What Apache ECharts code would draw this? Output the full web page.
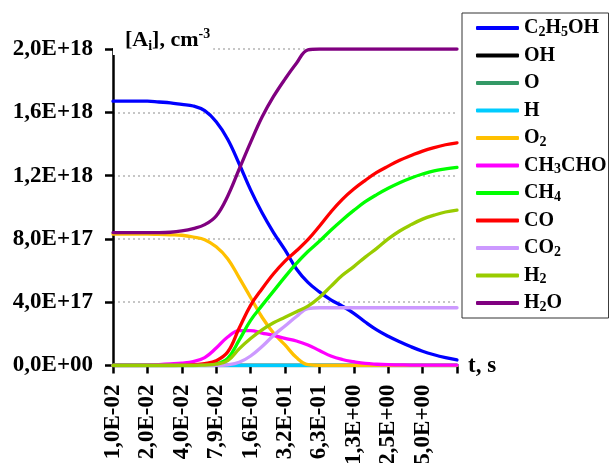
<!DOCTYPE html>
<html>
<head>
<meta charset="utf-8">
<script src="https://cdn.jsdelivr.net/npm/echarts@6/dist/echarts.min.js"></script>
<style>
html,body{margin:0;padding:0;background:#fff;}
#chart{width:609px;height:463px;}
</style>
</head>
<body>
<div id="chart"></div>
<script>
// ---- data (concentrations in units of 1E+17 cm^-3) ----
// categories: log10(t, s)
const logT = [-2.0,-1.9,-1.8,-1.7,-1.6,-1.5,-1.4,-1.3,-1.2,-1.1,-1.0,-0.9,-0.8,-0.7,-0.6,-0.5,-0.4,-0.3,-0.2,-0.1,0.0,0.1,0.2,0.3,0.4,0.5,0.6,0.7,0.8,0.9,1.0];
const xTickLabels = ['1,0E-02','2,0E-02','4,0E-02','7,9E-02','1,6E-01','3,2E-01','6,3E-01','1,3E+00','2,5E+00','5,0E+00'];
const yTickLabels = ['0,0E+00','4,0E+17','8,0E+17','1,2E+18','1,6E+18','2,0E+18'];

const C2H5OH = [16.7,16.7,16.7,16.7,16.65,16.6,16.5,16.4,16.1,15.4,14.3,12.75,11.1,9.65,8.4,7.3,6.1,5.25,4.65,4.15,3.75,3.3,2.75,2.25,1.85,1.5,1.18,0.9,0.68,0.5,0.35];
const OH     = [0,0,0,0,0,0,0,0,0,0,0,0,0,0,0,0,0,0,0,0,0,0,0,0,0,0,0,0,0,0,0];
const O      = [0,0,0,0,0,0,0,0,0,0,0,0,0,0,0,0,0,0,0,0,0,0,0,0,0,0,0,0,0,0,0];
const H      = [0,0,0,0,0,0,0,0,0,0,0,0,0,0,0,0,0,0,0,0,0,0,0,0,0,0,0,0,0,0,0];
const O2     = [8.3,8.3,8.3,8.3,8.28,8.26,8.23,8.12,7.95,7.5,6.75,5.55,4.3,3.05,2.05,1.3,0.5,0.05,0,0,0,0,0,0,0,0,0,0,0,0,0];
const CH3CHO = [0,0,0,0.03,0.06,0.1,0.15,0.25,0.5,1.1,1.8,2.2,2.2,2.05,1.9,1.72,1.55,1.3,0.95,0.6,0.38,0.24,0.13,0.08,0.05,0.04,0.03,0.03,0.02,0.02,0.02];
const CH4    = [0,0,0,0,0,0,0,0,0.03,0.1,0.45,1.6,2.85,3.8,4.7,5.6,6.45,7.2,7.85,8.55,9.2,9.8,10.35,10.8,11.2,11.55,11.85,12.1,12.3,12.42,12.52];
const CO     = [0,0,0,0,0,0,0.02,0.05,0.12,0.3,0.85,2.35,3.8,4.85,5.8,6.6,7.25,7.95,8.8,9.7,10.5,11.15,11.7,12.2,12.6,12.97,13.27,13.55,13.77,13.95,14.07];
const CO2    = [0,0,0,0,0,0,0,0,0,0,0.04,0.2,0.6,1.2,1.9,2.5,3.1,3.6,3.65,3.65,3.65,3.65,3.65,3.65,3.65,3.65,3.65,3.65,3.65,3.65,3.65];
const H2     = [0,0,0,0,0,0,0,0,0.03,0.08,0.3,1.05,1.7,2.25,2.7,3.05,3.4,3.75,4.3,5.0,5.7,6.25,6.85,7.4,8.0,8.5,8.9,9.25,9.5,9.7,9.82];
const H2O    = [8.4,8.4,8.4,8.4,8.4,8.42,8.5,8.65,8.9,9.45,10.7,12.4,14.1,15.7,17.0,18.1,19.1,19.95,20,20,20,20,20,20,20,20,20,20,20,20,20];

const seriesNames  = ['C2H5OH','OH','O','H','O2','CH3CHO','CH4','CO','CO2','H2','H2O'];
const seriesValues = [C2H5OH, OH, O, H, O2, CH3CHO, CH4, CO, CO2, H2, H2O];
const seriesColors = ['#0000FF','#000000','#339966','#00CCFF','#FFC000','#FF00FF','#00FF00','#FF0000','#CC99FF','#99CC00','#800080'];

const FONT = '"Liberation Serif", "Times New Roman", serif';

const chart = echarts.init(document.getElementById('chart'), null, {renderer: 'canvas'});
chart.setOption({
  animation: false,
  backgroundColor: '#fff',
  textStyle: {fontFamily: FONT},
  title: {
    text: '[A{i|i}], cm{p|-3}',
    left: 113, top: 24,
    padding: [3, 3, 2, 12],
    backgroundColor: '#fff',
    textStyle: {
      fontFamily: FONT, fontWeight: 'bold', fontSize: 22, color: '#000', lineHeight: 26,
      rich: {
        i: {fontFamily: FONT, fontWeight: 'bold', fontSize: 14, color: '#000', verticalAlign: 'bottom', lineHeight: 26},
        p: {fontFamily: FONT, fontWeight: 'bold', fontSize: 14, color: '#000', verticalAlign: 'top', lineHeight: 26}
      }
    }
  },
  legend: {
    orient: 'vertical',
    left: 462, top: 13,
    padding: [4, 2, 4, 14],
    borderColor: '#333', borderWidth: 1,
    itemWidth: 43, itemHeight: 4, itemGap: 5.5, itemTextGap: 4,
    icon: 'roundRect',
    data: seriesNames,
    formatter: function (name) { return name.replace(/(\d)/g, '{s|$1}'); },
    textStyle: {
      fontFamily: FONT, fontWeight: 'bold', fontSize: 20, color: '#000', lineHeight: 22,
      rich: {
        s: {fontFamily: FONT, fontWeight: 'bold', fontSize: 14, color: '#000', verticalAlign: 'bottom', lineHeight: 22}
      }
    }
  },
  grid: {left: 113, right: 152, top: 49, bottom: 97.5, containLabel: false, outerBoundsMode: 'none'},
  xAxis: {
    type: 'category',
    data: logT,
    boundaryGap: false,
    axisLine: {show: true, lineStyle: {color: '#000', width: 2.5}},
    axisTick: {show: true, interval: 2, length: 8, lineStyle: {color: '#000', width: 2.5}},
    axisLabel: {
      interval: 2, rotate: 90, margin: 19,
      fontFamily: FONT, fontWeight: 'bold', fontSize: 23, color: '#000',
      formatter: function (v, idx) { const k = idx / 3; return xTickLabels[k] || ''; }
    },
    splitLine: {show: false}
  },
  yAxis: {
    type: 'value',
    min: 0, max: 20, interval: 4,
    axisLine: {show: true, lineStyle: {color: '#000', width: 2.5}},
    axisTick: {show: true, length: 8, lineStyle: {color: '#000', width: 2.5}},
    axisLabel: {
      margin: 20,
      fontFamily: FONT, fontWeight: 'bold', fontSize: 23, color: '#000',
      formatter: function (v) { return yTickLabels[Math.round(v / 4)]; }
    },
    splitLine: {show: true, lineStyle: {color: '#b4b4b4', type: [2, 3], width: 1.5}}
  },
  graphic: [{
    type: 'text',
    style: {x: 468, y: 366, text: 't, s', font: 'bold 23px ' + FONT, fill: '#000', verticalAlign: 'middle', align: 'left'}
  }],
  series: seriesNames.map(function (n, k) {
    return {
      name: n, type: 'line', data: seriesValues[k],
      showSymbol: false, symbol: 'none', smooth: 0.4,
      color: seriesColors[k],
      lineStyle: {width: 3.3, color: seriesColors[k], cap: 'round', join: 'round'}
    };
  })
});
</script>
</body>
</html>
